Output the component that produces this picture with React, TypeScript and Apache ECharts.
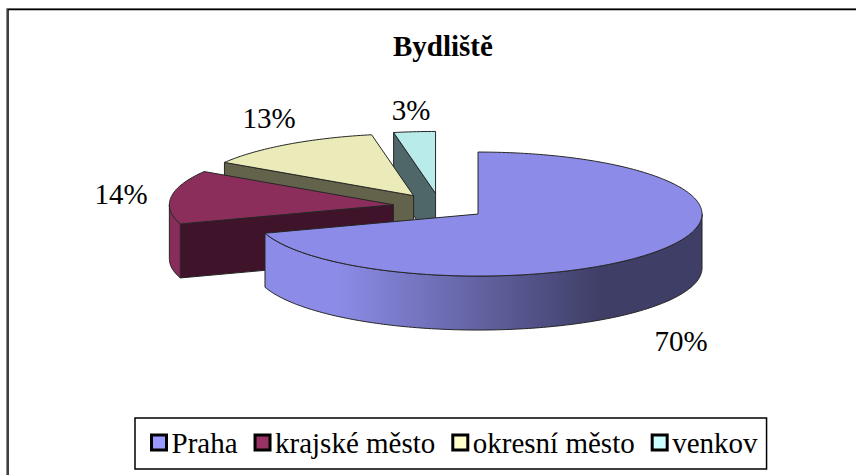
import React, { useEffect, useRef } from "react";
import * as echarts from "echarts";

const TITLE = "Bydliště";
const categories = ["Praha", "krajské město", "okresní město", "venkov"];
const values = [70, 14, 13, 3];
const legendColors = ["#9999FF", "#993366", "#FFFFCC", "#CCFFFF"];
const topColors = ["#8C8CE8", "#8B2E5C", "#EBEBB9", "#B9EBEB"];
const wallColors = ["#3E3E66", "#882C5A", "#63634C", "#4F6769"];
const faceColors = ["#3E3E66", "#3F1329", "#63634C", "#4F6769"];
const labelCenters = [
  [681, 341],
  [121, 194],
  [269, 118],
  [411, 110],
];

const FONT = '"Liberation Serif", "Times New Roman", serif';
const CX = 440;
const CY = 206.4;
const RX = 224;
const RY = 62;
const DEPTH = 54;
const EXPLODE = 47;
const STROKE = "#262626";

const total = values.reduce((a, b) => a + b, 0);
const rad = (d: number) => (d * Math.PI) / 180;

function sliceAngles(i: number): [number, number] {
  let acc = 0;
  for (let k = 0; k < i; k++) acc += values[k];
  return [(acc / total) * 360, ((acc + values[i]) / total) * 360];
}

function renderSlice(i: number) {
  return (_params: any, api: any) => {
    const value = api.value(0);
    const [a0, a1] = sliceAngles(i);
    const mid = rad((a0 + a1) / 2);
    const tx = CX + EXPLODE * Math.sin(mid);
    const ty = CY - EXPLODE * Math.cos(mid) * (RY / RX);
    const rim = (deg: number, drop = 0): number[] => [
      tx + RX * Math.sin(rad(deg)),
      ty - RY * Math.cos(rad(deg)) + drop,
    ];
    const arc = (from: number, to: number, drop = 0) => {
      const pts: number[][] = [];
      const n = Math.max(1, Math.ceil(Math.abs(to - from)));
      for (let s = 0; s <= n; s++) pts.push(rim(from + ((to - from) * s) / n, drop));
      return pts;
    };
    const children: any[] = [];
    if (Math.sin(rad(a0)) < -1e-6) {
      children.push({
        type: "polygon",
        shape: {
          points: [[tx, ty], rim(a0), rim(a0, DEPTH), [tx, ty + DEPTH]],
        },
        style: { fill: faceColors[i], stroke: STROKE, lineWidth: 1 },
      });
    }
    const w0 = Math.max(a0, 90);
    const w1 = Math.min(a1, 270);
    if (w1 > w0) {
      const fill =
        i === 0
          ? new echarts.graphic.LinearGradient(
              265,
              0,
              702,
              0,
              [
                { offset: 0, color: "#8C8CE8" },
                { offset: 0.165, color: "#8C8CE8" },
                { offset: 0.77, color: "#3E3E66" },
                { offset: 1, color: "#3E3E66" },
              ],
              true
            )
          : wallColors[i];
      children.push({
        type: "polygon",
        shape: { points: [...arc(w0, w1), ...arc(w1, w0, DEPTH)] },
        style: { fill, stroke: STROKE, lineWidth: 1 },
      });
    }
    children.push({
      type: "polygon",
      shape: { points: [[tx, ty], ...arc(a0, a1)] },
      style: { fill: topColors[i], stroke: STROKE, lineWidth: 1 },
    });
    children.push({
      type: "text",
      style: {
        x: labelCenters[i][0],
        y: labelCenters[i][1],
        text: `${value}%`,
        fontFamily: FONT,
        fontSize: 29,
        fill: "#000",
        align: "center",
        verticalAlign: "middle",
      },
    });
    return { type: "group", children };
  };
}

export default function App() {
  const ref = useRef<HTMLDivElement>(null);
  useEffect(() => {
    document.body.style.margin = "0";
    const chart = echarts.init(ref.current!, undefined, { renderer: "svg" });
    const order = [3, 2, 1, 0];
    chart.setOption({
      animation: false,
      backgroundColor: "#fff",
      title: {
        text: TITLE,
        left: 393,
        top: 31,
        padding: 0,
        textStyle: { fontFamily: FONT, fontSize: 29, fontWeight: "bold", color: "#000" },
      },
      legend: {
        data: categories,
        left: 135,
        top: 418,
        orient: "horizontal",
        padding: [10, 9, 12, 15],
        itemGap: 16,
        itemWidth: 15,
        itemHeight: 15,
        icon: "rect",
        selectedMode: false,
        borderColor: "#000",
        borderWidth: 1.5,
        backgroundColor: "#fff",
        itemStyle: { borderColor: "#000", borderWidth: 3 },
        textStyle: { fontFamily: FONT, fontSize: 29, color: "#000", padding: 0 },
      },
      graphic: [
        {
          type: "polyline",
          silent: true,
          shape: { points: [[6.5, 475], [6.5, 8.5], [856, 8.5]] },
          style: { stroke: "#8c8c8c", lineWidth: 1, fill: "none" },
        },
        {
          type: "polyline",
          silent: true,
          shape: { points: [[8, 475], [8, 9.5], [856, 9.5]] },
          style: { stroke: "#000", lineWidth: 1.5, fill: "none" },
        },
      ],
      series: order.map((i, k) => ({
        type: "custom",
        name: categories[i],
        coordinateSystem: "none",
        silent: true,
        z: 2 + k,
        itemStyle: { color: legendColors[i] },
        data: [[values[i]]],
        renderItem: renderSlice(i),
      })),
    });
    return () => chart.dispose();
  }, []);
  return (
    <div
      ref={ref}
      style={{ position: "fixed", left: 0, top: 0, width: 856, height: 475 }}
    />
  );
}
